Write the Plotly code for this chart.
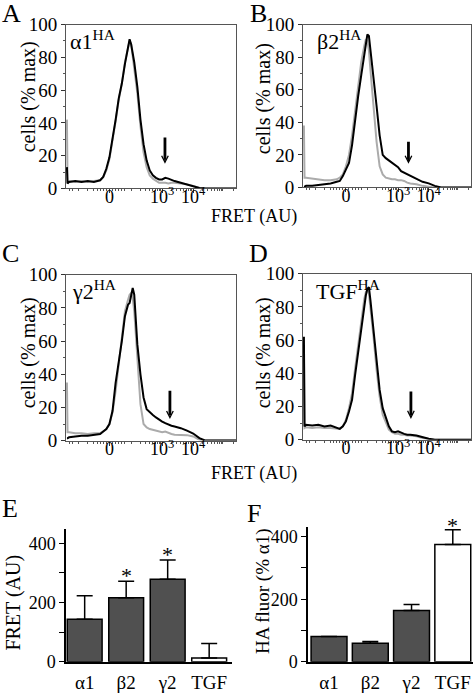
import math
import plotly.graph_objects as go

W, H = 475, 697
FONT = "Liberation Serif, Times New Roman, serif"

# ---------------- data: flow histograms (FRET, transformed display units) ----------------
fret_u = [-0.07, -0.05, 0.0, 0.2, 0.4, 0.6, 0.8, 1.0, 1.1, 1.2, 1.3, 1.4, 1.5, 1.6, 1.7,
          1.8, 1.9, 1.95, 2.0, 2.05, 2.1, 2.2, 2.3, 2.4, 2.5, 2.6, 2.7, 2.8, 2.9, 3.0,
          3.1, 3.2, 3.3, 3.4, 3.6, 3.8, 4.0, 4.2, 4.4, 4.8, 5.38]

a_black = [13, 3, 4, 4.5, 4, 4.5, 4, 5, 7, 12, 19, 30, 42, 55, 64, 76, 86, 91, 88, 82,
           77, 62, 42, 27, 17, 11, 8, 6.5, 5.5, 5.5, 6.5, 6, 5, 4.5, 3.5, 2.5, 1.5, 0.3, 0, 0, 0]
a_gray = [42, 4, 4.5, 4, 4.5, 4, 4.5, 5, 7, 11, 18, 29, 41, 54, 64, 77, 87, 90, 88, 80,
          74, 58, 38, 22, 13, 8, 6, 4.5, 3.5, 3.5, 3.5, 3, 3.5, 3.5, 3, 2.5, 1.5, 0.3, 0, 0, 0]

b_black = [0.5, 0.5, 1, 1, 1.5, 2, 2.5, 3.5, 4, 7, 11, 15, 26, 42, 56, 69, 83, 89, 94, 93,
           85, 68, 50, 32, 20, 18, 16.5, 15, 13.5, 12.5, 10, 9, 8, 7, 5, 3.5, 2.5, 1, 0, 0, 0]
b_gray = [38, 6, 6, 5.5, 5, 4.5, 4.5, 5, 6, 8, 13, 20, 32, 48, 63, 77, 87, 91, 90, 84,
          72, 48, 28, 13, 8, 6, 5.5, 5, 5, 4.5, 4.5, 4, 3, 2.5, 2, 1, 0.5, 0, 0, 0, 0]

c_black = [1.5, 1.5, 2, 2.5, 3, 3, 3.5, 4, 5.5, 7, 10, 18, 35, 47, 60, 75, 82, 83, 88, 92,
           88, 58, 40, 26, 19, 17, 15.5, 14, 12.5, 11.5, 10.5, 9.5, 9, 8.5, 7.5, 6, 4.3, 1.5, 0, 0, 0]
c_gray = [35, 5, 5, 4.5, 4.5, 4, 4.5, 4.5, 5.5, 7, 10, 17, 30, 45, 62, 78, 85, 88, 89, 86,
          78, 48, 22, 10, 8, 7, 6.5, 6, 5.5, 5, 5.5, 4.5, 4, 3.5, 3.3, 3.3, 2.5, 0.5, 0, 0, 0]

d_black = [62, 8, 9, 8.5, 9, 8, 8.5, 7, 6.5, 8, 11, 17, 24, 39, 53, 67, 81, 87, 91, 92,
           84, 66, 47, 30, 19, 13, 8, 5, 4.5, 5, 4, 3.5, 3, 3, 2.5, 1.5, 0.5, 0, 0, 0, 0]
d_gray = [55, 7, 7.5, 7, 7.5, 7, 7, 6.5, 6.5, 8, 12, 19, 28, 43, 58, 72, 85, 89, 90, 88,
          80, 62, 42, 26, 15, 10, 6, 4.5, 3.5, 3.5, 3, 3, 2.5, 2.5, 2, 1, 0.5, 0, 0, 0, 0]

hist_labels = ["α1<sup>HA</sup>", "β2<sup>HA</sup>", "γ2<sup>HA</sup>", "TGF<sup>HA</sup>"]
arrow_x = [3.09, 3.34, 3.25, 3.42]
arrow_top = [32, 29, 31, 30]
arrow_tip = [15, 14.5, 13, 12.5]

x_tickvals = [1.3, 3.0, 4.0]
x_ticktext = ["0", "10<sup>3</sup>", "10<sup>4</sup>"]

# ---------------- data: bar charts ----------------
bar_cats = ["α1", "β2", "γ2", "TGF"]
e_vals = [144, 216, 279, 13]
e_err = [79, 56, 65, 49]
e_sig = [False, True, True, False]
f_vals = [81, 59, 164, 375]
f_err = [0, 6, 19, 47]
f_sig = [False, False, False, True]


def fx(p):
    return p / W


def fy(p):
    return 1 - p / H


fig = go.Figure()
annotations = []

hist_black = [a_black, b_black, c_black, d_black]
hist_gray = [a_gray, b_gray, c_gray, d_gray]
hist_boxes = [(66, 236, 15, 184), (303, 471, 15, 183), (66, 236, 273, 444), (303, 471, 272, 443)]
label_pos = [(68, 14), (315, 14), (70, 272), (314, 272)]
ytitle_pos = [(28, 90), (263, 92), (28, 354), (263, 354)]

minor_x = [0.3, 0.12, 0.0, 0.6, 0.8, 0.9, 1.0, 1.1, 1.2, 1.4, 1.5, 1.6, 1.7, 1.8, 2.0]
for d in [2, 3, 4, 5]:
    for k in range(2, 10):
        u = d + math.log10(k)
        if u <= 5.38 and u > 2.05:
            minor_x.append(round(u, 3))

for i in range(4):
    n = i + 1
    xa = "x" if n == 1 else f"x{n}"
    ya = "y" if n == 1 else f"y{n}"
    fig.add_trace(go.Scatter(x=fret_u, y=hist_gray[i], mode="lines",
                             line=dict(color="#ababab", width=2), xaxis=xa, yaxis=ya,
                             hoverinfo="skip"))
    fig.add_trace(go.Scatter(x=fret_u, y=hist_black[i], mode="lines",
                             line=dict(color="black", width=2), xaxis=xa, yaxis=ya,
                             hoverinfo="skip"))
    l, r, t, b = hist_boxes[i]
    axis_common = dict(showline=True, mirror=True, linecolor="#555555", linewidth=1,
                       showgrid=False, zeroline=False, ticks="outside", ticklen=4,
                       tickcolor="#333333")
    fig.update_layout(**{
        ("xaxis" if n == 1 else f"xaxis{n}"): dict(
            domain=[fx(l), fx(r)], anchor=ya, range=[-0.1, 5.38],
            tickmode="array", tickvals=x_tickvals, ticktext=x_ticktext,
            ticklabelstandoff=-12,
            tickfont=dict(family=FONT, size=18, color="black"),
            minor=dict(tickmode="array", tickvals=minor_x, ticks="outside", ticklen=2,
                       tickcolor="#555555"),
            **axis_common),
        ("yaxis" if n == 1 else f"yaxis{n}"): dict(
            domain=[fy(b), fy(t)], anchor=xa, range=[0, 100],
            tickmode="linear", tick0=0, dtick=20,
            tickfont=dict(family=FONT, size=19, color="black"),
            minor=dict(dtick=10, ticks="outside", ticklen=2, tickcolor="#555555"),
            **axis_common),
    })
    annotations.append(dict(text=hist_labels[i], xref="paper", yref="paper",
                            x=fx(label_pos[i][0]), y=fy(label_pos[i][1]),
                            xanchor="left", yanchor="top", showarrow=False,
                            font=dict(family=FONT, size=22, color="black")))
    annotations.append(dict(text="cells (% max)", xref="paper", yref="paper",
                            x=fx(ytitle_pos[i][0]), y=fy(ytitle_pos[i][1]),
                            xanchor="center", yanchor="middle", textangle=-90,
                            showarrow=False, font=dict(family=FONT, size=20, color="black")))
    annotations.append(dict(text="", xref=xa, yref=ya, x=arrow_x[i], y=arrow_tip[i],
                            axref=xa, ayref=ya, ax=arrow_x[i], ay=arrow_top[i],
                            showarrow=True, arrowhead=0, arrowwidth=2.8,
                            arrowcolor="black", standoff=4))
    annotations.append(dict(text="", xref=xa, yref=ya, x=arrow_x[i], y=arrow_tip[i],
                            ax=0, ay=-10, showarrow=True, arrowhead=5, arrowsize=1.3,
                            arrowwidth=1, arrowcolor="black"))

for yy in [213, 478]:
    annotations.append(dict(text="FRET (AU)", xref="paper", yref="paper",
                            x=fx(254), y=fy(yy), xanchor="center", yanchor="middle",
                            showarrow=False, font=dict(family=FONT, size=18, color="black")))

# ---------------- bar charts ----------------
bar_colors = ["#505050", "#505050", "#505050", "white"]
bar_specs = [
    (5, e_vals, e_err, e_sig, (66, 232, 535, 672), [-0.45, 3.55], 449, 0.84, -9),
    (6, f_vals, f_err, f_sig, (308, 473, 533, 672), [-0.51, 3.49], 431, 0.87, -10),
]
for n, vals, errs, sig, box, xr, ytop, bw, ysh in bar_specs:
    xa, ya = f"x{n}", f"y{n}"
    fig.add_trace(go.Bar(x=bar_cats, y=vals, width=bw, xaxis=xa, yaxis=ya,
                         marker=dict(color=bar_colors, line=dict(color="black", width=1.5)),
                         error_y=dict(type="data", array=errs, arrayminus=[0] * len(errs),
                                      symmetric=False, color="black", thickness=1.5, width=8),
                         hoverinfo="skip"))
    l, r, t, b = box
    fig.update_layout(**{
        f"xaxis{n}": dict(domain=[fx(l), fx(r)], anchor=ya, range=xr, type="category",
                          showline=True, linecolor="black", linewidth=1.5, ticks="",
                          ticklabelstandoff=3,
                          showgrid=False, zeroline=False,
                          tickfont=dict(family=FONT, size=19, color="black")),
        f"yaxis{n}": dict(domain=[fy(b), fy(t)], anchor=xa, range=[0, ytop],
                          tickmode="linear", tick0=0, dtick=200,
                          minor=dict(dtick=100, ticks="outside", ticklen=5, tickcolor="black"),
                          showline=True, linecolor="black", linewidth=1.5,
                          ticks="outside", ticklen=5, tickcolor="black",
                          showgrid=False, zeroline=False,
                          tickfont=dict(family=FONT, size=18, color="black")),
    })
    for c, v, e, s in zip(bar_cats, vals, errs, sig):
        if s:
            annotations.append(dict(text="*", xref=xa, yref=ya, x=c, y=v + e,
                                    yanchor="bottom", yshift=ysh, showarrow=False,
                                    font=dict(family=FONT, size=22, color="black")))

annotations.append(dict(text="FRET (AU)", xref="paper", yref="paper", x=fx(14), y=fy(611),
                        xanchor="center", yanchor="middle", textangle=-90, showarrow=False,
                        font=dict(family=FONT, size=20, color="black")))
annotations.append(dict(text="HA fluor (% α1)", xref="paper", yref="paper", x=fx(263), y=fy(599),
                        xanchor="center", yanchor="middle", textangle=-90, showarrow=False,
                        font=dict(family=FONT, size=19, color="black")))

for letter, (px_, py_) in zip("ABCDEF", [(11, 11), (258, 11), (10, 258), (258, 258), (10, 521), (254, 526)]):
    annotations.append(dict(text=letter, xref="paper", yref="paper", x=fx(px_), y=fy(py_ - 7),
                            xanchor="center", yanchor="middle", showarrow=False,
                            font=dict(family=FONT, size=26, color="black")))

fig.update_layout(width=W, height=H, margin=dict(l=0, r=0, t=0, b=0),
                  paper_bgcolor="white", plot_bgcolor="white", showlegend=False,
                  font=dict(family=FONT, color="black"), annotations=annotations,
                  bargap=0.15)

fig.write_html("out.html", config={"displayModeBar": False},
               post_script="document.body.style.margin='0';document.body.style.padding='0';")
